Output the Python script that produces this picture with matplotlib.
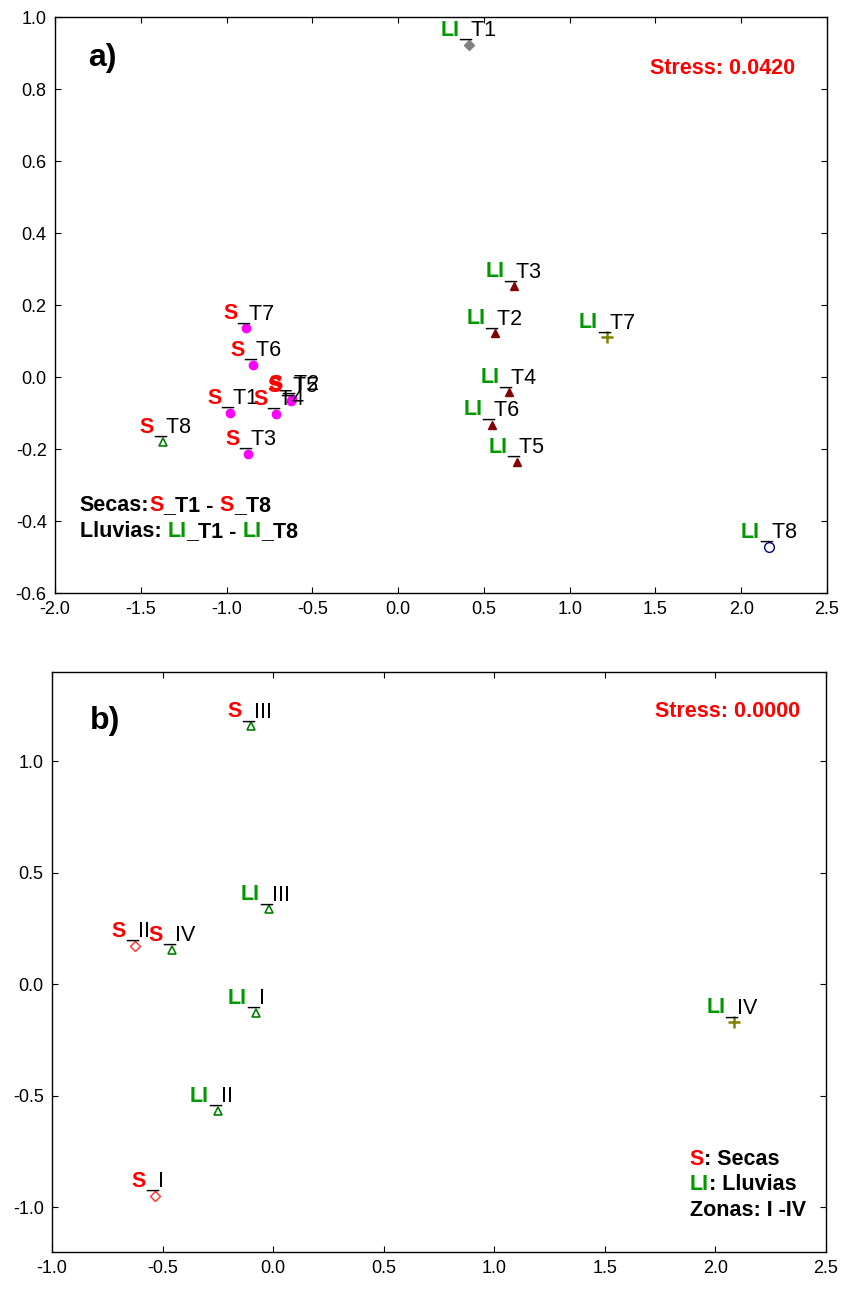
import matplotlib.pyplot as plt

plt.rcParams['font.family'] = ['Liberation Sans', 'DejaVu Sans']
plt.rcParams['axes.unicode_minus'] = False

RED = '#ff0000'
GREEN = '#009900'

# panel a: tiempos (S_T1..S_T8, LI_T1..LI_T8)
a_prefix = ['S'] * 8 + ['LI'] * 8
a_suffix = ['_T1', '_T2', '_T3', '_T4', '_T5', '_T6', '_T7', '_T8'] * 2
a_x = [-0.978, -0.620, -0.873, -0.710, -0.626, -0.844, -0.885, -1.370,
       0.411, 0.563, 0.674, 0.645, 0.691, 0.545, 1.217, 2.162]
a_y = [-0.099, -0.060, -0.213, -0.102, -0.066, 0.034, 0.135, -0.180,
       0.922, 0.121, 0.252, -0.043, -0.235, -0.132, 0.110, -0.472]
a_group = ['dot'] * 7 + ['tri_open'] + ['diamond'] + ['tri'] * 5 + ['plus', 'circle']

# panel b: zonas
b_prefix = ['S', 'S', 'S', 'S', 'LI', 'LI', 'LI', 'LI']
b_suffix = ['_I', '_II', '_III', '_IV', '_I', '_II', '_III', '_IV']
b_x = [-0.534, -0.625, -0.100, -0.457, -0.077, -0.249, -0.019, 2.085]
b_y = [-0.947, 0.171, 1.156, 0.154, -0.127, -0.568, 0.336, -0.171]
b_group = ['diamond_open', 'diamond_open', 'tri_open', 'tri_open',
           'tri_open', 'tri_open', 'tri_open', 'plus']

styles = {
    'dot': dict(marker='o', ms=6, mfc='#ff00ff', mec='#ff00ff'),
    'tri': dict(marker='^', ms=6, mfc='#800000', mec='#800000'),
    'tri_open': dict(marker='^', ms=6, mfc='none', mec='#008000', mew=1.2),
    'diamond': dict(marker='D', ms=5, mfc='#808080', mec='#808080'),
    'diamond_open': dict(marker='D', ms=5, mfc='none', mec='#ff3030', mew=1.0),
    'plus': dict(marker='+', ms=8, mec='#808000', mew=1.8),
    'circle': dict(marker='o', ms=7, mfc='none', mec='#000080', mew=1.0),
}


def rich(ax, x, y, parts, size=15.5):
    """ Draw a line of text made of coloured bold pieces. """
    t = ax.text(x, y, parts[0][0], color=parts[0][1], transform=ax.transAxes,
                fontsize=size, fontweight='bold', ha='left', va='baseline')
    for s, c in parts[1:]:
        t = ax.annotate(s, xy=(1, 0), xycoords=t, color=c, fontsize=size,
                        fontweight='bold', ha='left', va='bottom')


def points(ax, xs, ys, prefix, suffix, groups):
    for x, y, p, s, g in zip(xs, ys, prefix, suffix, groups):
        ax.plot([x], [y], ls='none', **styles[g])
        pc = RED if p == 'S' else GREEN
        ax.annotate(p, (x, y), xytext=(-6.5, 6.5), textcoords='offset points',
                    ha='right', va='baseline', fontsize=15.5, fontweight='bold', color=pc)
        ax.annotate(s, (x, y), xytext=(-6.5, 6.5), textcoords='offset points',
                    ha='left', va='baseline', fontsize=15.5, color='black')


def style_axes(ax):
    ax.tick_params(direction='in', length=4, top=True, right=True, labelsize=13)
    ax.tick_params(axis='x', pad=6)
    ax.tick_params(axis='y', pad=6)
    for sp in ax.spines.values():
        sp.set_linewidth(1.0)


fig = plt.figure(figsize=(8.46, 12.91), dpi=100)
W, H = 846, 1291

ax1 = fig.add_axes([55 / W, 1 - 593 / H, 772 / W, 576 / H])
points(ax1, a_x, a_y, a_prefix, a_suffix, a_group)
ax1.set_xlim(-2.0, 2.5)
ax1.set_ylim(-0.6, 1.0)
ax1.set_xticks([-2.0, -1.5, -1.0, -0.5, 0.0, 0.5, 1.0, 1.5, 2.0, 2.5])
ax1.set_yticks([-0.6, -0.4, -0.2, 0.0, 0.2, 0.4, 0.6, 0.8, 1.0])
ax1.xaxis.set_major_formatter('{x:.1f}')
ax1.yaxis.set_major_formatter('{x:.1f}')
style_axes(ax1)
ax1.text(0.043, 0.915, 'a)', transform=ax1.transAxes, fontsize=23, fontweight='bold')
ax1.text(0.959, 0.901, 'Stress: 0.0420', transform=ax1.transAxes, fontsize=15.5,
         fontweight='bold', color=RED, ha='right', va='baseline')
rich(ax1, 0.032, 0.142, [('Secas:', 'black'), ('S', RED), ('_T1 - ', 'black'),
                         ('S', RED), ('_T8', 'black')])
rich(ax1, 0.032, 0.097, [('Lluvias: ', 'black'), ('LI', GREEN), ('_T1 - ', 'black'),
                         ('LI', GREEN), ('_T8', 'black')])

ax2 = fig.add_axes([52 / W, 1 - 1252 / H, 774 / W, 580 / H])
points(ax2, b_x, b_y, b_prefix, b_suffix, b_group)
ax2.set_xlim(-1.0, 2.5)
ax2.set_ylim(-1.2, 1.4)
ax2.set_xticks([-1.0, -0.5, 0.0, 0.5, 1.0, 1.5, 2.0, 2.5])
ax2.set_yticks([-1.0, -0.5, 0.0, 0.5, 1.0])
ax2.xaxis.set_major_formatter('{x:.1f}')
ax2.yaxis.set_major_formatter('{x:.1f}')
style_axes(ax2)
ax2.text(0.049, 0.902, 'b)', transform=ax2.transAxes, fontsize=23, fontweight='bold')
ax2.text(0.966, 0.922, 'Stress: 0.0000', transform=ax2.transAxes, fontsize=15.5,
         fontweight='bold', color=RED, ha='right', va='baseline')
rich(ax2, 0.824, 0.150, [('S', RED), (': Secas', 'black')])
rich(ax2, 0.824, 0.107, [('LI', GREEN), (': Lluvias', 'black')])
rich(ax2, 0.824, 0.062, [('Zonas: I -IV', 'black')])

fig.savefig('out.png', dpi=100)
